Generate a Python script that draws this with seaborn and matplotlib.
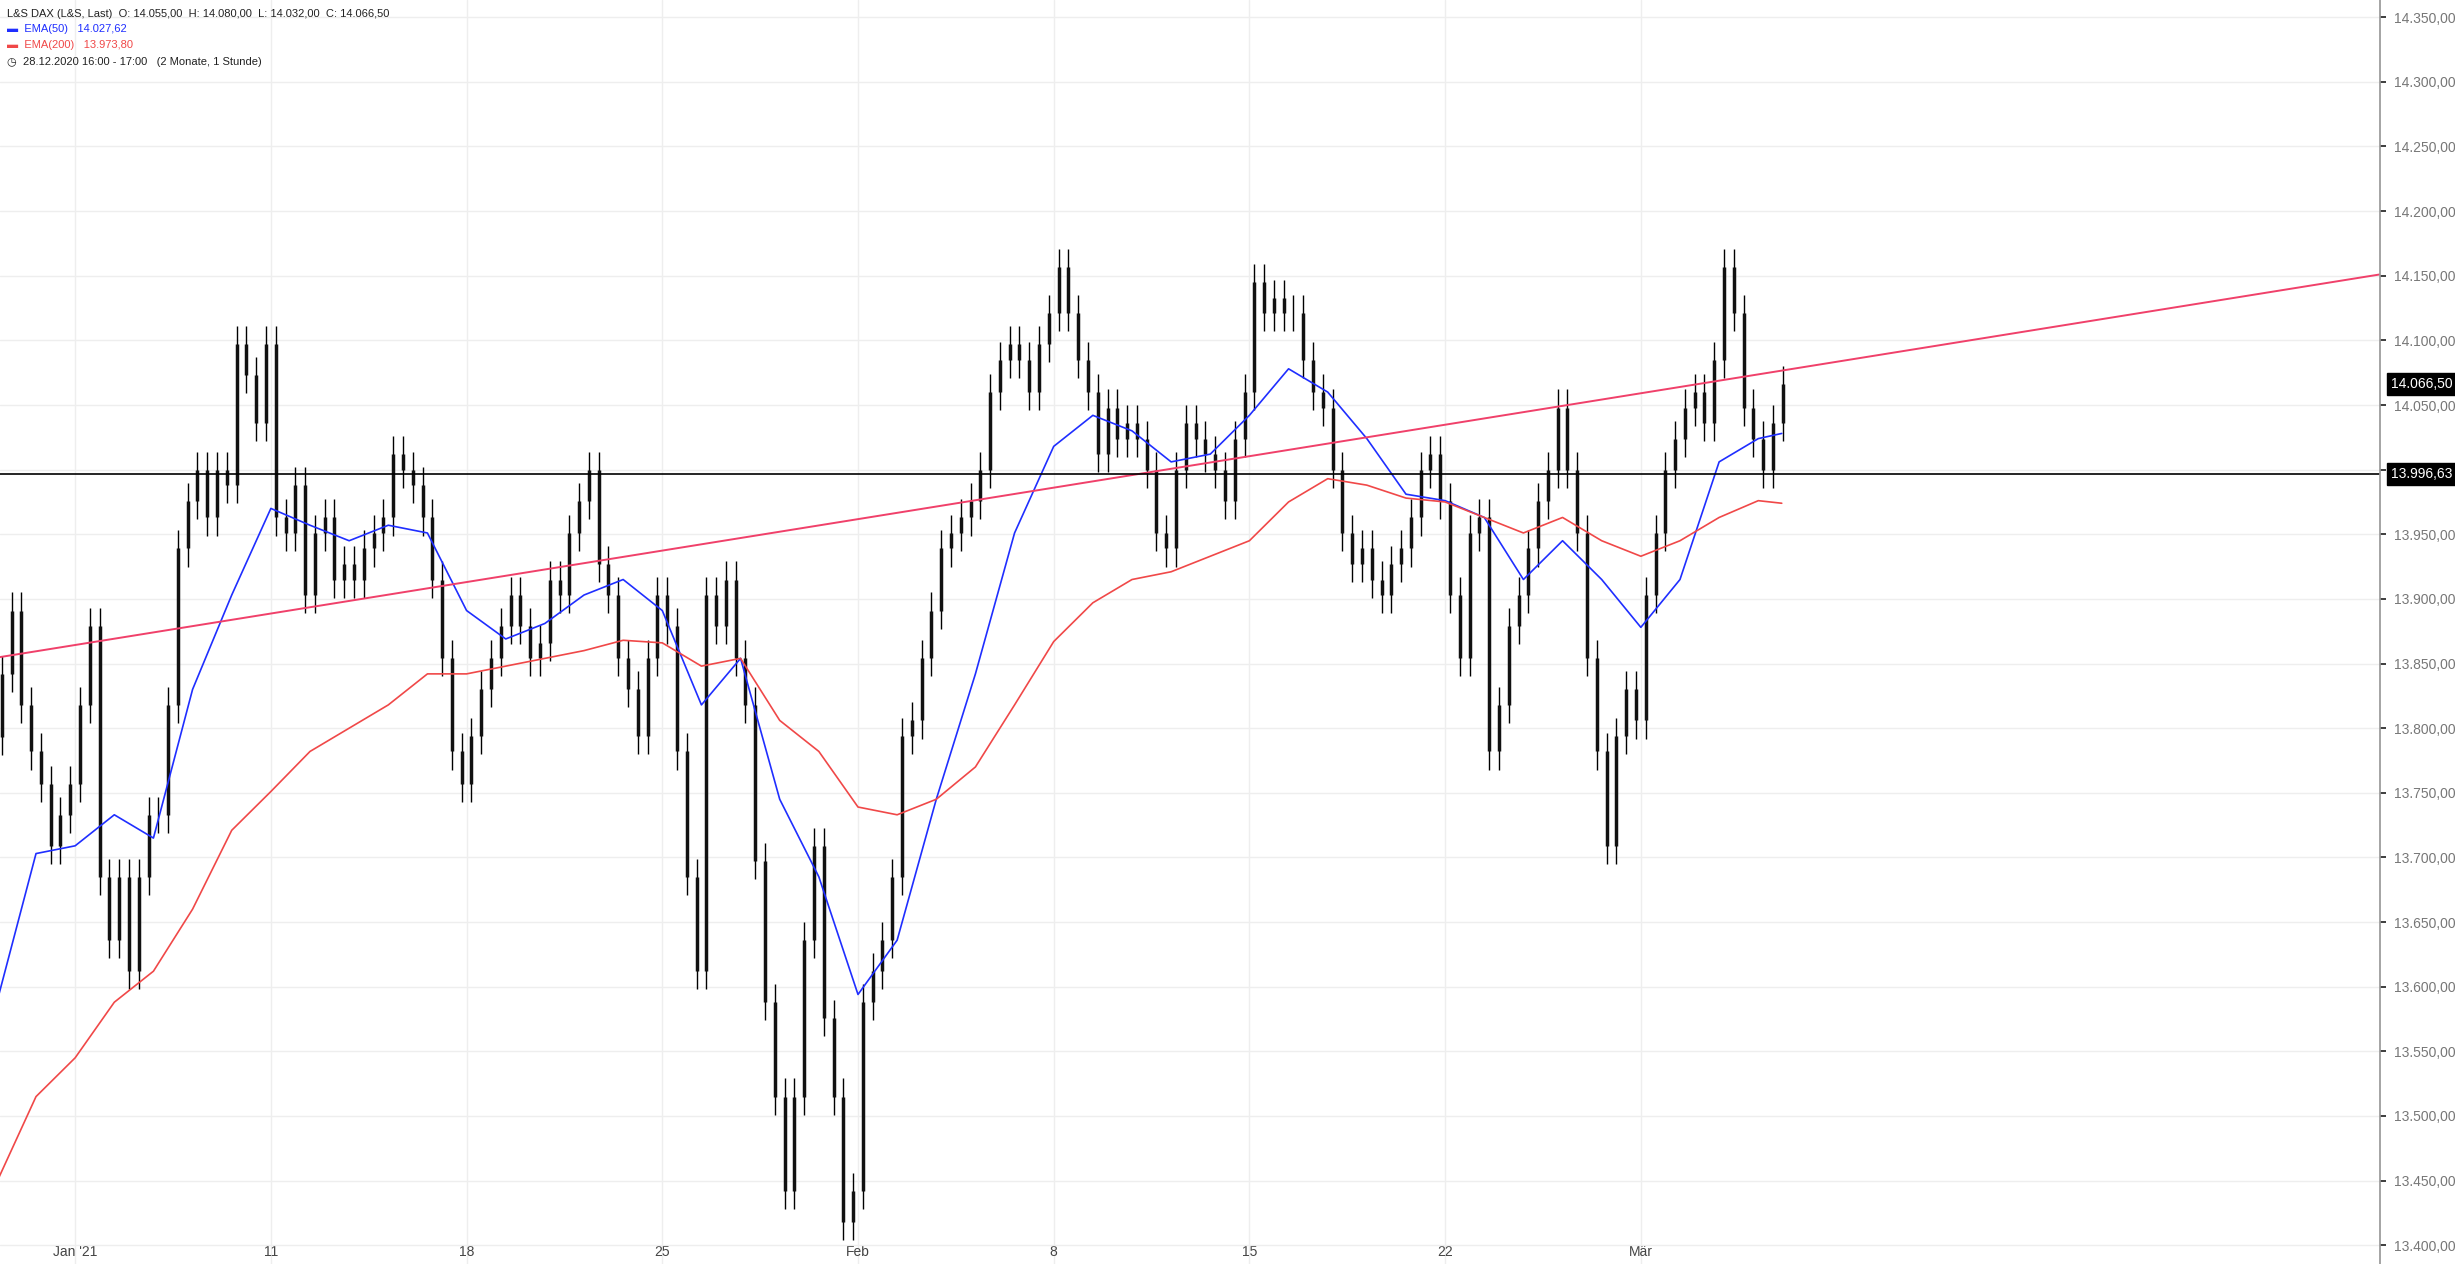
import matplotlib
matplotlib.use("Agg")
import matplotlib.pyplot as plt
import seaborn as sns
import numpy as np
import pandas as pd

sns.set_theme(style="white")
plt.rcParams['font.family'] = ['Liberation Sans', 'DejaVu Sans']

closes = [
 13842,13891,13818,13782, 13757,13709,13733,13757,
 13818,13879,13685,13636, 13685,13612,13685,13733, 13733,13818,13939,13976, 14000,13963,14000,13988, 14097,14073,14036,14097,
 13963,13951,13988,13903, 13951,13963,13915,13927, 13915,13939,13951,13963, 14012,14000,13988,13963, 13915,13854,13782,13757,
 13794,13830,13854,13879, 13903,13879,13854,13866, 13915,13903,13951,13976, 14000,13927,13903,13854, 13830,13794,13854,13903,
 13879,13782,13685,13612, 13903,13879,13915,13854, 13818,13697,13588,13515, 13442,13515,13636,13709, 13576,13515,13418,13442,
 13588,13612,13636,13685, 13794,13806,13854,13891, 13939,13951,13963,13976, 14000,14060,14085,14097, 14085,14060,14097,14121,
 14157,14121,14085,14060, 14012,14048,14024,14036, 14024,14000,13951,13939, 14000,14036,14024,14012, 14000,13976,14024,14060,
 14145,14121,14133,14121, 14121,14085,14060,14048, 14000,13951,13927,13939, 13915,13903,13927,13939, 13963,14000,14012,13976,
 13903,13854,13951,13963, 13782,13818,13879,13903, 13939,13976,14000,14048, 14000,13951,13854,13782, 13709,13794,13830,13806,
 13903,13951,14000,14024, 14048,14060,14036,14085, 14157,14121,14048,14024, 14000,14036,14066.5,
]
first_open = 13793
ema200 = [13449,13515,13545,13588,13612,13660,13721,13751,13782,13800,
          13818,13842,13842,13848,13854,13860,13868,13866,13848,13854,
          13806,13782,13739,13733,13745,13770,13818,13867,13897,13915,
          13921,13933,13945,13975,13993,13988,13978,13975,13963,13951,
          13963,13945,13933,13945,13963,13976,13974]
ema50 = [13588,13703,13709,13733,13715,13830,13903,13970,13957,13945,
         13957,13951,13891,13869,13881,13903,13915,13891,13818,13854,
         13745,13685,13594,13636,13745,13842,13951,14018,14042,14030,
         14006,14012,14042,14078,14060,14024,13981,13976,13963,13915,
         13945,13915,13878,13915,14006,14024,14028]
trend_x = [0.08, 60.88]
trend_y = [13855, 14151]
hline_val = 13996.63
last_val = 14066.50
xtick_pos = [2, 7, 12, 17, 22, 27, 32, 37, 42]
xtick_lab = ["Jan '21", "11", "18", "25", "Feb", "8", "15", "22", "Mär"]

n = len(closes)
bx = np.array([(i // 4) + ((i % 4) + 0.5) / 4 for i in range(n)])
opens = np.array([first_open] + closes[:-1])
cl = np.array(closes)
lo = np.minimum(opens, cl)
hi = np.maximum(opens, cl)

ex = list(range(46)) + [45.6]

fig = plt.figure(figsize=(24.55, 12.64), dpi=100)
ax = fig.add_axes([0.0, 0.0, 1520/1568, 1.0])
ax.set_xlim(0.08, 60.88)
ax.set_ylim(13385.5, 14363.3)

ax.vlines(bx, lo - 14, hi + 14, color="black", linewidth=1.0)
ax.vlines(bx, lo, hi, color="#111111", linewidth=2.5)
sns.lineplot(x=ex, y=ema50, ax=ax, color="#1f2eff", linewidth=1.2)
sns.lineplot(x=ex, y=ema200, ax=ax, color="#f04848", linewidth=1.2)
ax.plot(trend_x, trend_y, color="#f0406a", linewidth=1.4)
ax.axhline(hline_val, color="black", linewidth=1.2)

def fmt(v):
    return f"{v:,.2f}".replace(",", "X").replace(".", ",").replace("X", ".")

yt = np.arange(13400, 14351, 50)
ax.set_yticks(yt)
ax.set_yticklabels([fmt(v) for v in yt], fontsize=10, color="#777777")
ax.yaxis.tick_right()
ax.set_xticks(xtick_pos)
ax.set_xticklabels(xtick_lab, fontsize=10, color="#444444")
ax.tick_params(axis="x", pad=-14, length=4, direction="in")
ax.tick_params(axis="y", length=4, pad=6)
ax.grid(True, color="#eeeeee", linewidth=1)
for s in ["top", "left", "bottom"]:
    ax.spines[s].set_visible(False)
ax.spines["right"].set_color("#999999")

for v in [last_val, hline_val]:
    ax.annotate(fmt(v), xy=(1.0, v), xycoords=("axes fraction", "data"), xytext=(8, 0),
                textcoords="offset points", va="center", ha="left", fontsize=10, color="white",
                bbox=dict(boxstyle="square,pad=0.3", fc="black", ec="black"))

fs = 8
fig.text(0.003, 0.993, "L&S DAX (L&S, Last)  O: 14.055,00  H: 14.080,00  L: 14.032,00  C: 14.066,50",
         fontsize=fs, va="top", color="#222222")
fig.text(0.003, 0.981, "▬  EMA(50)   14.027,62", fontsize=fs, va="top", color="#1f2eff")
fig.text(0.003, 0.968, "▬  EMA(200)   13.973,80", fontsize=fs, va="top", color="#f04848")
fig.text(0.003, 0.955, "◷  28.12.2020 16:00 - 17:00   (2 Monate, 1 Stunde)", fontsize=fs, va="top", color="#222222")

fig.savefig("out.png", dpi=100)
